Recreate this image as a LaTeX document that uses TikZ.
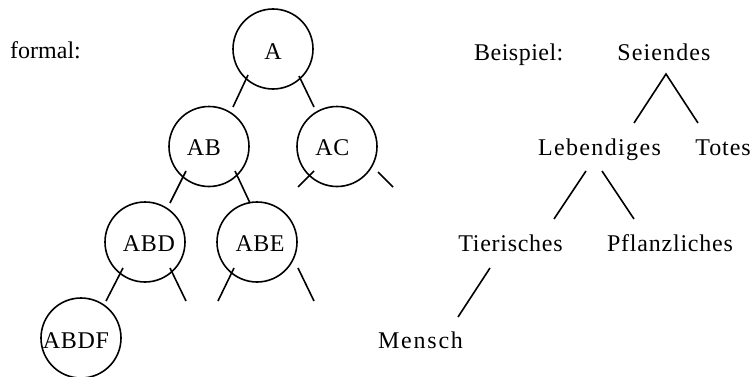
\documentclass[tikz,border=0pt]{standalone}
\usepackage{fontspec}
\setmainfont{Liberation Serif}
% word with extra tracking, given in percent of the font size
\newcommand{\tracked}[2]{{\addfontfeatures{LetterSpace=#1}#2}}
\begin{document}
\begin{tikzpicture}[x=1pt,y=1pt,
  every node/.style={font=\fontsize{24}{28}\selectfont, inner sep=0pt},
  ring/.style={circle, draw, line width=1.6pt, minimum size=80pt},
  word/.style={anchor=base},
  edge/.style={line width=1.6pt}]
\useasboundingbox (0,0) rectangle (753,376);

% formal tree: circles
\node[ring] (cA)    at (273,327)   {};
\node[ring] (cAB)   at (209,229.5) {};
\node[ring] (cAC)   at (337,229.5) {};
\node[ring] (cABD)  at (145,134)   {};
\node[ring] (cABE)  at (257,134)   {};
\node[ring] (cABDF) at (81,38)     {};

% labels in the circles
\node[word] (tA)    at (273,317)   {A};
\node[word] (tAB)   at (204,221)   {\tracked{3}{AB}};
\node[word] (tAC)   at (332.5,221) {\tracked{3}{AC}};
\node[word] (tABD)  at (149,125)   {\tracked{3}{ABD}};
\node[word] (tABE)  at (260,125)   {\tracked{2}{ABE}};
\node[word] (tABDF) at (76,28)     {\tracked{3}{ABDF}};
\node[anchor=base west] (formal) at (10,318) {formal:};

% branch stubs
\draw[edge] ([shift={(-25,-26)}]cA.center) -- ([shift={(-40,-58)}]cA.center);
\draw[edge] ([shift={(26,-27)}]cA.center) -- ([shift={(41,-58)}]cA.center);
\draw[edge] ([shift={(-23,-24.5)}]cAB.center) -- ([shift={(-39,-56.5)}]cAB.center);
\draw[edge] ([shift={(26,-24.5)}]cAB.center) -- ([shift={(41,-56.5)}]cAB.center);
\draw[edge] ([shift={(-23,-24.5)}]cAC.center) -- ([shift={(-39,-40.5)}]cAC.center);
\draw[edge] ([shift={(41,-25.5)}]cAC.center) -- ([shift={(56,-40.5)}]cAC.center);
\draw[edge] ([shift={(-22,-26)}]cABD.center) -- ([shift={(-39,-59)}]cABD.center);
\draw[edge] ([shift={(25,-26)}]cABD.center) -- ([shift={(41,-59)}]cABD.center);
\draw[edge] ([shift={(-23,-26)}]cABE.center) -- ([shift={(-39,-59)}]cABE.center);
\draw[edge] ([shift={(41,-26)}]cABE.center) -- ([shift={(57,-59)}]cABE.center);

% example tree
\node[anchor=base west] (beispiel) at (474,316) {\tracked{2}{Beispiel:}};
\node[word] (seiendes)     at (664,316)   {\tracked{4.6}{Seiendes}};
\node[word] (lebendiges)   at (599.5,221) {\tracked{5.7}{Lebendiges}};
\node[word] (totes)        at (723,221)   {\tracked{3.8}{Totes}};
\node[word] (tierisches)   at (510.5,125) {\tracked{3}{Tierisches}};
\node[word] (pflanzliches) at (670,125)   {\tracked{3.3}{Pflanzliches}};
\node[word] (mensch)       at (420.5,28)  {\tracked{7.5}{Mensch}};

\coordinate (sTop)  at ([shift={(2,-14)}]seiendes.base);
\coordinate (sL)    at ([shift={(-30,-63)}]seiendes.base);
\coordinate (sR)    at ([shift={(34,-63)}]seiendes.base);
\draw[edge] (sL) -- (sTop) -- (sR);

\draw[edge] ([shift={(-13.5,-16)}]lebendiges.base) -- ([shift={(-45.5,-64)}]lebendiges.base);
\draw[edge] ([shift={(2.5,-16)}]lebendiges.base) -- ([shift={(34.5,-64)}]lebendiges.base);

\draw[edge] ([shift={(-20.5,-17)}]tierisches.base) -- ([shift={(-52.5,-66)}]tierisches.base);
\end{tikzpicture}
\end{document}
